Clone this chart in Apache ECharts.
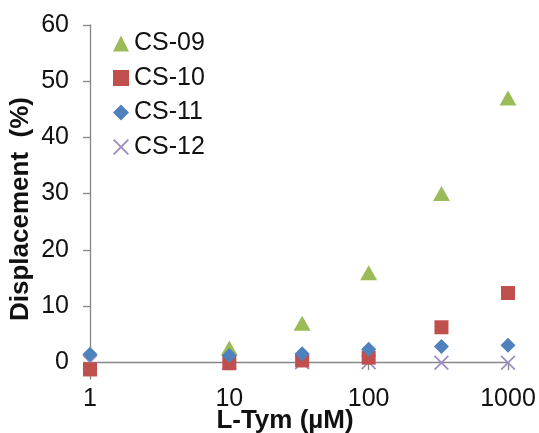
<!DOCTYPE html>
<html>
<head>
<meta charset="utf-8">
<script src="https://cdn.jsdelivr.net/npm/echarts@6/dist/echarts.min.js"></script>
<style>
  html, body { margin: 0; padding: 0; background: #fff; }
  #chart { width: 539px; height: 433px; }
</style>
</head>
<body>
<div id="chart"></div>
<script>
// concentrations (uM) and displacement (%) per compound
var concentrations = [1, 10, 33.3, 100, 333, 1000];
var cs09 = [null, 2.5, 6.9, 15.9, 30.0, 47.0];
var cs10 = [-1.3, -0.2, 0.3, 0.8, 6.2, 12.3];
var cs11 = [1.4, 1.2, 1.5, 2.3, 2.8, 3.0];
var cs12 = [0, 0, 0, 0, -0.1, -0.1];
var yTicks = [0, 10, 20, 30, 40, 50, 60];

var crossPath = 'path://M0,0.8L0.8,0L5,4.2L9.2,0L10,0.8L5.8,5L10,9.2L9.2,10L5,5.8L0.8,10L0,9.2L4.2,5Z';

function pairs(vals) {
    var out = [];
    vals.forEach(function (v, i) {
        if (v !== null) out.push([concentrations[i], v]);
    });
    return out;
}

var chart = echarts.init(document.getElementById('chart'));

var fontFam = '"Liberation Sans", Arial, sans-serif';
var axisGray = '#868686';

var option = {
    animation: false,
    textStyle: { fontFamily: fontFam },
    grid: { left: 90, right: 31, top: 25, bottom: 54, outerBoundsMode: 'none', containLabel: false },
    legend: {
        orient: 'vertical',
        left: 108,
        top: 26,
        itemWidth: 16,
        itemHeight: 16,
        itemGap: 9.5,
        textStyle: { fontSize: 25, color: '#111', fontFamily: fontFam, padding: [0, 0, 0, 0] },
        data: ['CS-09', 'CS-10', 'CS-11', 'CS-12']
    },
    xAxis: {
        type: 'log',
        logBase: 10,
        min: 1,
        max: 1000,
        name: 'L-Tym (µM)',
        nameLocation: 'middle',
        nameMoveOverlap: false,
        nameGap: 29,
        nameTextStyle: { fontSize: 26, fontWeight: 'bold', color: '#111', padding: [0, 28, 0, 0] },
        axisLine: { onZero: true, lineStyle: { color: axisGray, width: 1.3 } },
        axisTick: { show: true, inside: false, length: 8, lineStyle: { color: axisGray, width: 1.3 } },
        minorTick: { show: false },
        splitLine: { show: false },
        axisLabel: { fontSize: 25, color: '#111', margin: 8, formatter: function (v) { return String(Math.round(v)); } }
    },
    yAxis: {
        type: 'value',
        min: -3,
        max: 60,
        name: 'Displacement  (%)',
        nameLocation: 'middle',
        nameMoveOverlap: false,
        nameGap: 56,
        nameTextStyle: { fontSize: 26, fontWeight: 'bold', color: '#111', padding: [0, 14, 0, 0] },
        axisLine: { show: true, lineStyle: { color: axisGray, width: 1.3 } },
        axisTick: { show: true, length: 7, customValues: yTicks, lineStyle: { color: axisGray, width: 1.3 } },
        splitLine: { show: false },
        axisLabel: { fontSize: 25, color: '#111', margin: 21, customValues: yTicks }
    },
    series: [
        {
            name: 'CS-12', type: 'scatter', z: 1,
            symbol: crossPath, symbolSize: 15,
            itemStyle: { color: '#9d8bc4', opacity: 1 },
            data: pairs(cs12)
        },
        {
            name: 'CS-09', type: 'scatter', z: 2,
            symbol: 'triangle', symbolSize: [17, 15],
            itemStyle: { color: '#9bbb59', opacity: 1 },
            data: pairs(cs09)
        },
        {
            name: 'CS-10', type: 'scatter', z: 3,
            symbol: 'rect', symbolSize: 14,
            itemStyle: { color: '#c0504d', opacity: 1 },
            data: pairs(cs10)
        },
        {
            name: 'CS-11', type: 'scatter', z: 4,
            symbol: 'diamond', symbolSize: [15, 15],
            itemStyle: { color: '#4f81bd', opacity: 1 },
            data: pairs(cs11)
        }
    ]
};

chart.setOption(option);
</script>
</body>
</html>
